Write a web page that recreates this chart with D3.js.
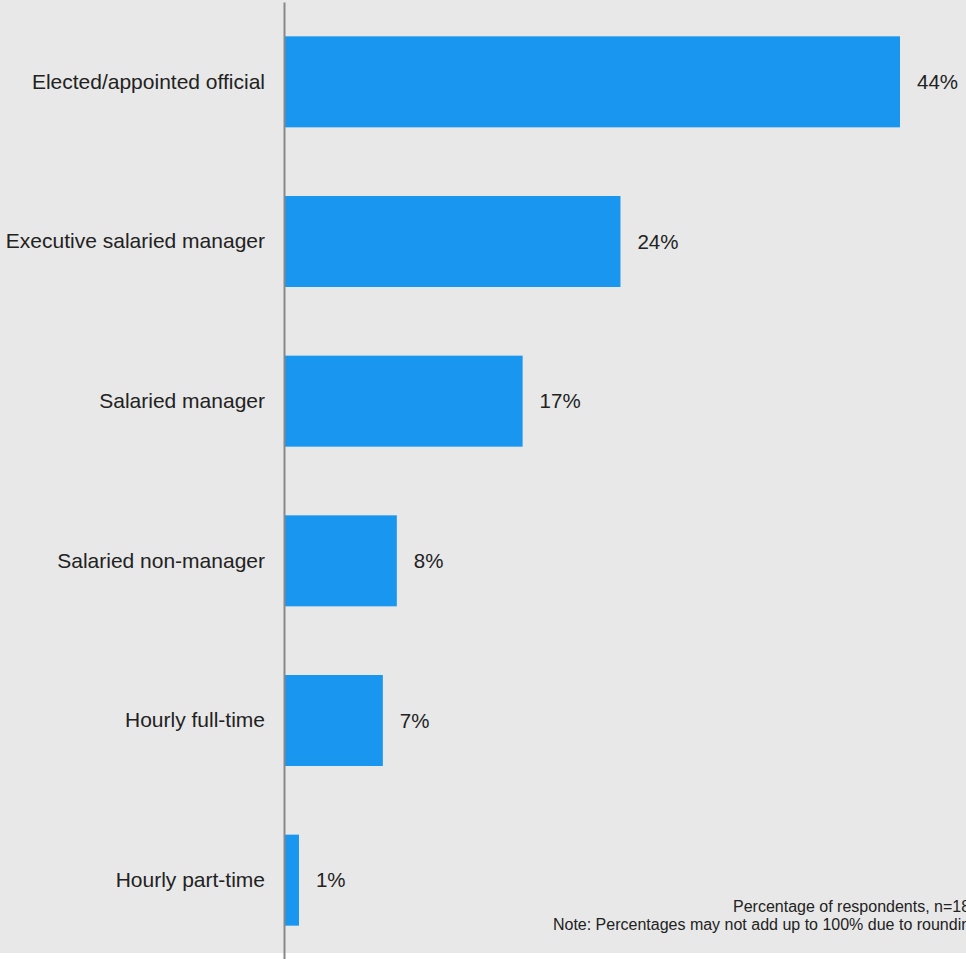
<!DOCTYPE html>
<html>
<head>
<meta charset="utf-8">
<script src="https://cdn.jsdelivr.net/npm/d3@7"></script>
<style>
  html, body { margin: 0; padding: 0; background: #ffffff; }
  svg { display: block; }
  text { font-family: "Liberation Sans", Arial, Helvetica, sans-serif; fill: #222222; }
</style>
</head>
<body>
<svg id="chart" width="966" height="959"></svg>
<script>
// Employment type of respondents
const categories = [
  "Elected/appointed official",
  "Executive salaried manager",
  "Salaried manager",
  "Salaried non-manager",
  "Hourly full-time",
  "Hourly part-time"
];
const values = [44, 24, 17, 8, 7, 1];
const footnotes = [
  "Percentage of respondents, n=183",
  "Note: Percentages may not add up to 100% due to rounding"
];

const W = 966, H = 959;
const svg = d3.select("#chart");

// panel background
svg.append("rect")
  .attr("x", 0).attr("y", 0)
  .attr("width", W).attr("height", 953)
  .attr("fill", "#e8e8e8");

const axisX = 284;
const x = d3.scaleLinear().domain([0, 44]).range([285, 900]);
const y = d3.scaleBand()
  .domain(categories)
  .range([2, 960])
  .paddingInner(0.43)
  .paddingOuter(0.215);

const rows = categories.map((c, i) => ({ c, v: values[i] }));

// bars
svg.append("g").selectAll("rect")
  .data(rows)
  .join("rect")
  .attr("x", x(0))
  .attr("y", d => y(d.c))
  .attr("width", d => x(d.v) - x(0))
  .attr("height", y.bandwidth())
  .attr("fill", "#1896f0");

// value labels
svg.append("g").selectAll("text")
  .data(rows)
  .join("text")
  .attr("x", d => x(d.v) + 17)
  .attr("y", d => y(d.c) + y.bandwidth() / 2)
  .attr("dy", "0.35em")
  .attr("font-size", 20.5)
  .text(d => d.v + "%");

// category axis
const yAxis = svg.append("g")
  .attr("transform", `translate(${axisX},0)`)
  .call(d3.axisLeft(y).tickSize(0).tickSizeOuter(0).tickPadding(19));
yAxis.select(".domain").attr("stroke", "#888888").attr("stroke-width", 2);
yAxis.selectAll(".tick text")
  .attr("font-size", 21)
  .attr("fill", "#222222")
  .style("font-family", "'Liberation Sans', Arial, Helvetica, sans-serif");

// footnote
svg.append("g").selectAll("text")
  .data(footnotes)
  .join("text")
  .attr("x", 979)
  .attr("y", (d, i) => 912 + i * 18)
  .attr("text-anchor", "end")
  .attr("font-size", 16)
  .text(d => d);
</script>
</body>
</html>
